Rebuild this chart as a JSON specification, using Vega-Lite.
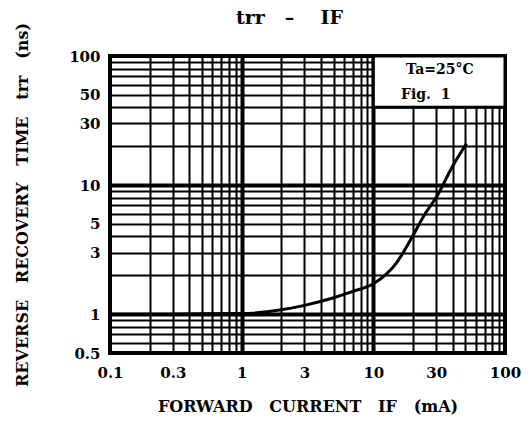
{
  "$schema": "https://vega.github.io/schema/vega-lite/v6.json",
  "width": 395,
  "height": 297,
  "autosize": {"type": "none"},
  "padding": {"left": 110, "top": 56, "right": 26, "bottom": 77},
  "background": "white",
  "title": {
    "text": "trr\u00a0\u00a0\u00a0–\u00a0\u00a0\u00a0\u00a0IF",
    "font": "DejaVu Serif",
    "fontWeight": "bold",
    "fontSize": 19,
    "color": "black",
    "offset": -6,
    "dx": -18,
    "anchor": "middle"
  },
  "config": {
    "view": {"stroke": "black", "strokeWidth": 4},
    "axis": {
      "labelFont": "DejaVu Serif",
      "labelFontWeight": "bold",
      "labelFontSize": 15,
      "labelColor": "black",
      "titleFont": "DejaVu Serif",
      "titleFontWeight": "bold",
      "titleFontSize": 16,
      "titleColor": "black",
      "grid": true,
      "gridColor": "black",
      "gridOpacity": 1,
      "ticks": false,
      "domain": false,
      "labelOverlap": false,
      "labelFlush": false,
      "labelBound": false
    }
  },
  "datasets": {
    "curve": [
      {"IF": 0.1, "trr": 1.0},
      {"IF": 0.3, "trr": 1.0},
      {"IF": 1, "trr": 1.01},
      {"IF": 2, "trr": 1.08},
      {"IF": 3, "trr": 1.17},
      {"IF": 5, "trr": 1.34},
      {"IF": 7, "trr": 1.5},
      {"IF": 10, "trr": 1.72},
      {"IF": 12.6, "trr": 2.05},
      {"IF": 15, "trr": 2.5},
      {"IF": 19, "trr": 3.7},
      {"IF": 25, "trr": 6.1},
      {"IF": 30, "trr": 8.0},
      {"IF": 40, "trr": 14},
      {"IF": 51, "trr": 21}
    ],
    "box": [{"x1": 10, "x2": 100, "y1": 40, "y2": 100}],
    "notes": [
      {"x": 32, "y": 78, "label": "Ta=25°C"},
      {"x": 25, "y": 50, "label": "Fig.\u00a0\u00a01"}
    ]
  },
  "layer": [
    {
      "data": {"name": "curve"},
      "mark": {"type": "line", "color": "black", "strokeWidth": 3, "interpolate": "monotone", "clip": true},
      "encoding": {
        "x": {
          "field": "IF",
          "type": "quantitative",
          "scale": {"type": "log", "domain": [0.1, 100], "nice": false},
          "axis": {
            "values": [0.1,0.2,0.3,0.4,0.5,0.6,0.7,0.8,0.9,1,2,3,4,5,6,7,8,9,10,20,30,40,50,60,70,80,90,100],
            "format": "~g",
            "labelExpr": "indexof([0.1,0.3,1,3,10,30,100], datum.value) >= 0 ? datum.label : ''",
            "gridWidth": {"condition": {"test": "datum.value == 1 || datum.value == 10", "value": 4}, "value": 2},
            "labelPadding": 12,
            "title": "FORWARD\u00a0\u00a0\u00a0CURRENT\u00a0\u00a0\u00a0IF\u00a0\u00a0\u00a0(mA)",
            "titlePadding": 18
          }
        },
        "y": {
          "field": "trr",
          "type": "quantitative",
          "scale": {"type": "log", "domain": [0.5, 100], "nice": false},
          "axis": {
            "values": [0.5,0.6,0.7,0.8,0.9,1,2,3,4,5,6,7,8,9,10,20,30,40,50,60,70,80,90,100],
            "format": "~g",
            "labelExpr": "indexof([0.5,1,3,5,10,30,50,100], datum.value) >= 0 ? datum.label : ''",
            "gridWidth": {"condition": {"test": "datum.value == 1 || datum.value == 10", "value": 4}, "value": 2},
            "labelPadding": 10,
            "title": "REVERSE\u00a0\u00a0\u00a0RECOVERY\u00a0\u00a0\u00a0TIME\u00a0\u00a0\u00a0trr\u00a0\u00a0\u00a0(ns)",
            "titlePadding": 38
          }
        }
      }
    },
    {
      "data": {"name": "box"},
      "mark": {"type": "rect", "fill": "white", "stroke": "black", "strokeWidth": 3},
      "encoding": {
        "x": {"field": "x1", "type": "quantitative"},
        "x2": {"field": "x2"},
        "y": {"field": "y1", "type": "quantitative"},
        "y2": {"field": "y2"}
      }
    },
    {
      "data": {"name": "notes"},
      "mark": {"type": "text", "font": "DejaVu Serif", "fontWeight": "bold", "fontSize": 14, "color": "black", "baseline": "middle", "align": "center"},
      "encoding": {
        "x": {"field": "x", "type": "quantitative"},
        "y": {"field": "y", "type": "quantitative"},
        "text": {"field": "label"}
      }
    }
  ]
}
